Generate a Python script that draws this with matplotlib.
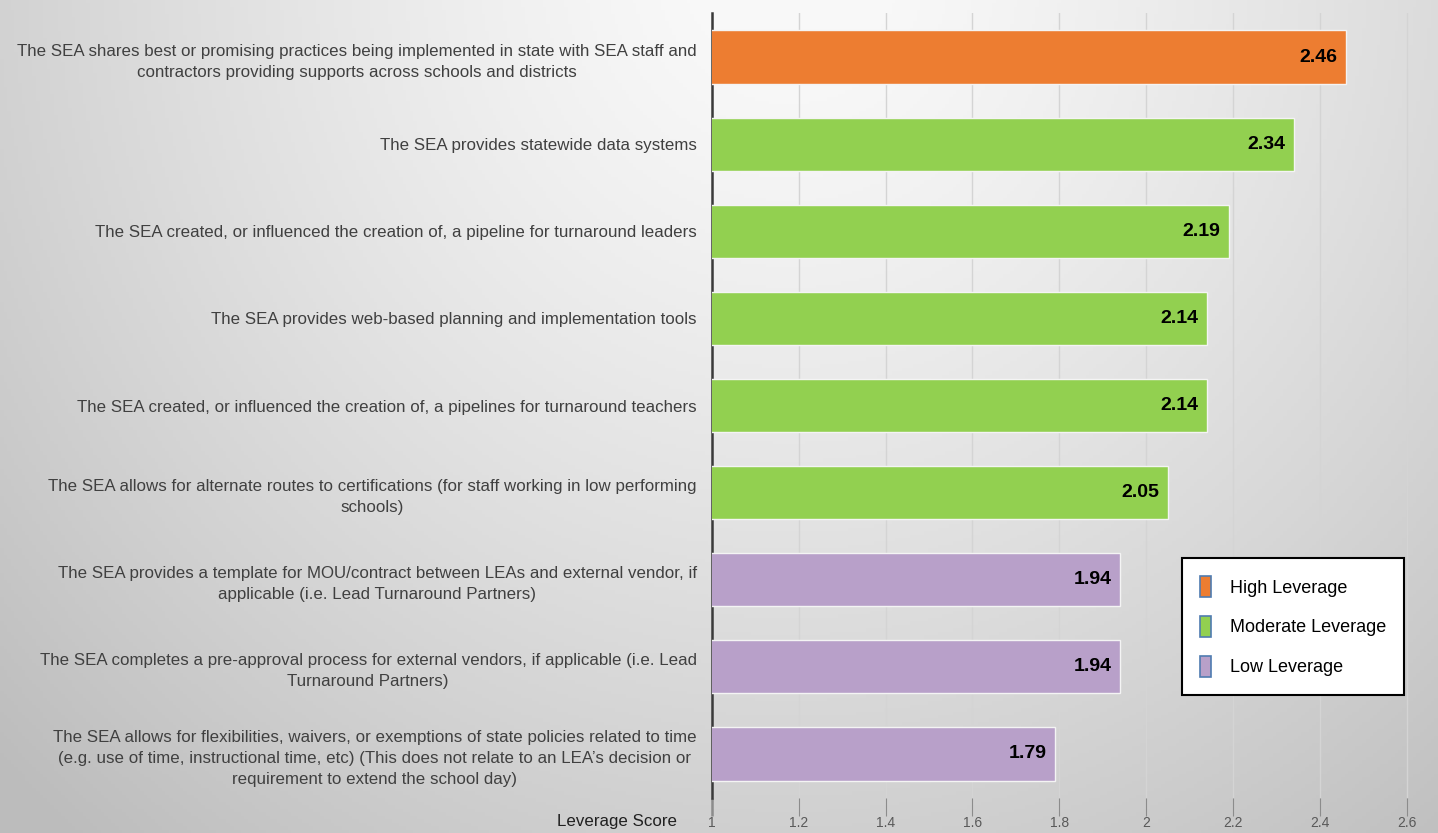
import numpy as np
import matplotlib
matplotlib.use('Agg')
from matplotlib import pyplot as plt
from matplotlib.patches import Patch

plt.rcParams['font.family'] = ['Liberation Sans', 'DejaVu Sans']

categories = [
    'The SEA shares best or promising practices being implemented in state with SEA staff and\ncontractors providing supports across schools and districts',
    'The SEA provides statewide data systems',
    'The SEA created, or influenced the creation of, a pipeline for turnaround leaders',
    'The SEA provides web-based planning and implementation tools',
    'The SEA created, or influenced the creation of, a pipelines for turnaround teachers',
    'The SEA allows for alternate routes to certifications (for staff working in low performing\nschools)',
    'The SEA provides a template for MOU/contract between LEAs and external vendor, if\napplicable (i.e. Lead Turnaround Partners)',
    'The SEA completes a pre-approval process for external vendors, if applicable (i.e. Lead\nTurnaround Partners)',
    'The SEA allows for flexibilities, waivers, or exemptions of state policies related to time\n(e.g. use of time, instructional time, etc) (This does not relate to an LEA\u2019s decision or\nrequirement to extend the school day)',
]
scores = [2.46, 2.34, 2.19, 2.14, 2.14, 2.05, 1.94, 1.94, 1.79]
levels = ['High', 'Moderate', 'Moderate', 'Moderate', 'Moderate', 'Moderate', 'Low', 'Low', 'Low']

level_names = ['High', 'Moderate', 'Low']
level_colors = {'High': '#ED7D31', 'Moderate': '#92D050', 'Low': '#B8A0C9'}
xticks = [1, 1.2, 1.4, 1.6, 1.8, 2, 2.2, 2.4, 2.6]

fig = plt.figure(figsize=(14.38, 8.33), dpi=100)

# grey backdrop, lighter towards the top middle
bg = fig.add_axes([0, 0, 1, 1], zorder=0)
gx, gy = np.meshgrid(np.linspace(0, 1, 400), np.linspace(0, 1, 240))
dist = np.sqrt(((gx - 0.55) / 0.55) ** 2 + ((gy + 0.05) / 1.0) ** 2)
shade = np.clip(0.985 - 0.16 * dist ** 1.3, 0.74, 0.975)
bg.imshow(np.dstack([shade] * 3), aspect='auto', extent=[0, 1, 1, 0])
bg.set_xlim(0, 1)
bg.set_ylim(1, 0)
bg.axis('off')

ax = fig.add_axes([0.4951, 0.0426, 0.5049, 0.9412], zorder=1)
ax.patch.set_alpha(0)

ypos = np.arange(len(scores))
colors = [level_colors[l] for l in levels]
ax.barh(ypos, scores, height=0.61, color=colors, edgecolor='#f4f4f4', linewidth=1, zorder=3)

for y, s in zip(ypos, scores):
    ax.annotate(f'{s:.2f}', (s, y), xytext=(-6, 0), textcoords='offset points',
                ha='right', va='center', fontsize=14, fontweight='bold', color='black', zorder=4)

ax.set_ylim(len(scores) - 0.5, -0.5)
ax.set_xlim(1, 2.672)
ax.set_xticks(xticks)
ax.set_xticklabels([f'{t:g}' for t in xticks])
ax.set_yticks(ypos)
ax.set_yticklabels(categories)
for lbl in ax.get_yticklabels():
    lbl.set_multialignment('center')
    lbl.set_fontsize(12.2)
    lbl.set_color('#404040')
    lbl.set_linespacing(1.5)

ax.grid(axis='x', color='#d4d4d4', linewidth=1, zorder=0)
ax.set_axisbelow(True)
for side in ['top', 'right', 'bottom']:
    ax.spines[side].set_visible(False)
ax.spines['left'].set_color('#3a3a3a')
ax.spines['left'].set_linewidth(1.8)
ax.tick_params(axis='y', length=0, pad=11)
ax.tick_params(axis='x', length=13, color='#8c8c8c', labelsize=10, labelcolor='#595959', pad=0)
ax.get_xticklines()[0].set_color('#3a3a3a')
ax.get_xticklines()[0].set_markeredgewidth(1.8)

ax.text(-0.048, -0.031, 'Leverage Score', transform=ax.transAxes, ha='right', va='center',
        fontsize=12.2, color='#202020')

handles = [Patch(facecolor=level_colors[n], edgecolor='#4f7bb0', linewidth=1.2, label=f'{n} Leverage')
           for n in level_names]
leg = ax.legend(handles=handles, loc='upper left', bbox_to_anchor=(0.647, 0.3054),
                frameon=True, fancybox=False, fontsize=13, handlelength=0.65, handleheight=1.4,
                labelspacing=1.05, borderpad=1.0, handletextpad=1.0, borderaxespad=0)
leg.get_frame().set_edgecolor('black')
leg.get_frame().set_linewidth(1.5)
leg.get_frame().set_facecolor('white')
leg.get_frame().set_alpha(1)

fig.savefig('out.png', dpi=100)
